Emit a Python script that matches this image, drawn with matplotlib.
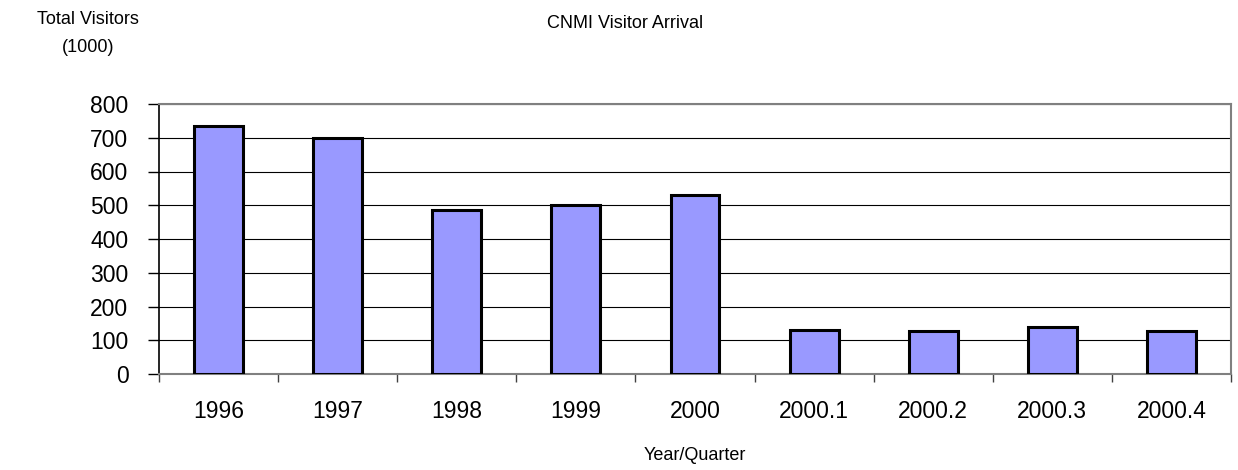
import matplotlib
matplotlib.use("Agg")
import matplotlib.pyplot as plt
import numpy as np

categories = ["1996", "1997", "1998", "1999", "2000", "2000.1", "2000.2", "2000.3", "2000.4"]
visitors = [736, 699, 487, 501, 530, 131, 126, 139, 126]
y_ticks = [0, 100, 200, 300, 400, 500, 600, 700, 800]

plt.rcParams['font.family'] = ['Liberation Sans', 'DejaVu Sans']

fig = plt.figure(figsize=(12.38, 4.70), dpi=100)
W, H = 1238, 470
left, right, top, bottom = 159, 1231, 104, 374
ax = fig.add_axes([left / W, 1 - bottom / H, (right - left) / W, (bottom - top) / H])

x = np.arange(len(categories))
ax.bar(x, visitors, width=0.41, color="#9999FF", edgecolor="black", linewidth=2.2, zorder=3)

ax.set_xlim(-0.5, len(categories) - 0.5)
ax.set_ylim(0, 800)
ax.set_yticks(y_ticks)
ax.set_yticklabels([str(v) for v in y_ticks], fontsize=16.5)
ax.yaxis.grid(True, color="black", linewidth=0.8, zorder=0)
ax.set_axisbelow(True)

ax.set_xticks(x)
ax.set_xticklabels(categories, fontsize=16.5)
ax.set_xticks(np.arange(-0.5, len(categories)), minor=True)
ax.tick_params(axis="x", which="major", length=0, pad=19)
ax.tick_params(axis="x", which="minor", length=6, width=1, color="#404040", direction="out")
ax.tick_params(axis="y", which="major", length=8, width=1, color="black", direction="out", pad=14)

for side in ["top", "right", "bottom"]:
    ax.spines[side].set_color("#808080")
    ax.spines[side].set_linewidth(1.5)
ax.spines["left"].set_color("black")
ax.spines["left"].set_linewidth(1.2)

fig.text(625 / W, 1 - 24 / H, "CNMI Visitor Arrival", ha="center", va="center", fontsize=13)
fig.text(88 / W, 1 - 19 / H, "Total Visitors", ha="center", va="center", fontsize=13)
fig.text(88 / W, 1 - 48 / H, "(1000)", ha="center", va="center", fontsize=13)
fig.text((left + right) / 2 / W, 1 - 455 / H, "Year/Quarter", ha="center", va="center", fontsize=13)

fig.savefig("out.png", dpi=100)
